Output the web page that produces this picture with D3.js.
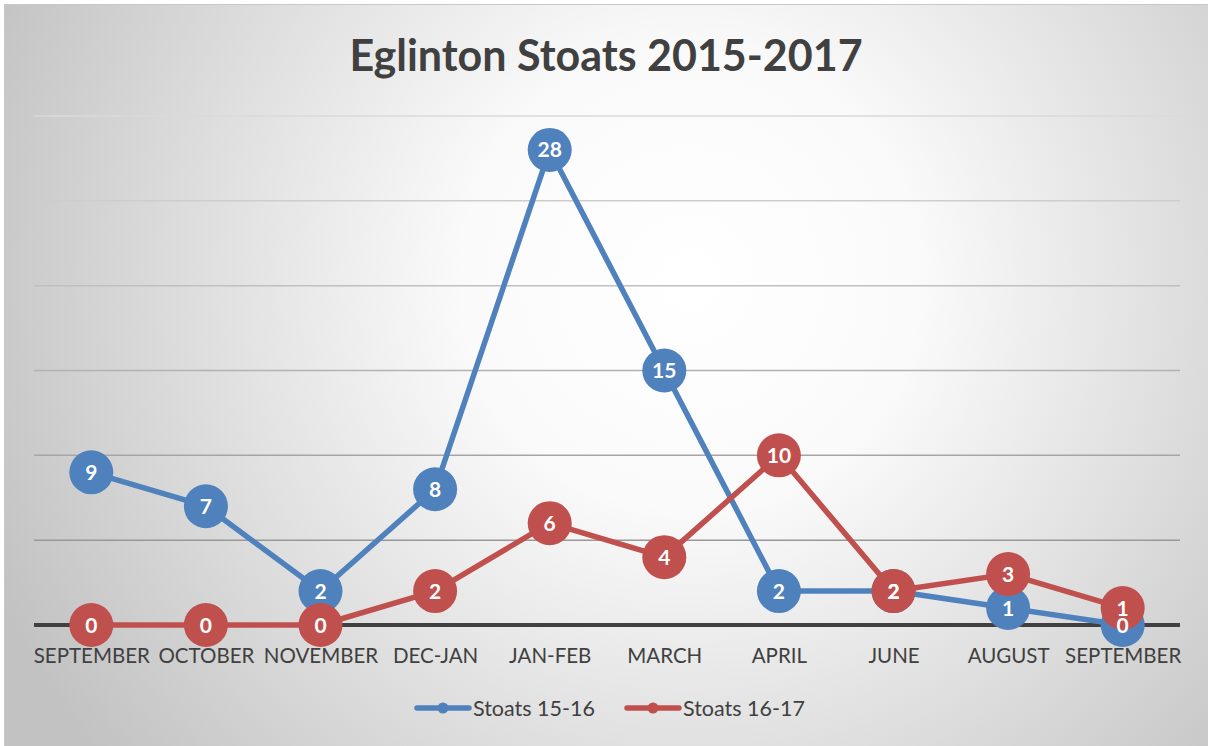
<!DOCTYPE html>
<html>
<head>
<meta charset="utf-8">
<script src="https://cdn.jsdelivr.net/npm/d3@7"></script>
<style>
  html, body { margin: 0; padding: 0; background: #fff; }
  svg { display: block; }
</style>
</head>
<body>
<script>
// chart values
const months = ['SEPTEMBER', 'OCTOBER', 'NOVEMBER', 'DEC-JAN', 'JAN-FEB', 'MARCH', 'APRIL', 'JUNE', 'AUGUST', 'SEPTEMBER'];
const stoats1516 = [9, 7, 2, 8, 28, 15, 2, 2, 1, 0];
const stoats1617 = [0, 0, 0, 2, 6, 4, 10, 2, 3, 1];
const seriesNames = ['Stoats 15-16', 'Stoats 16-17'];
const gridTicks = [5, 10, 15, 20, 25, 30];

const W = 1208, H = 746;
const colors = ['#4f81bd', '#c0504d'];
const font = 'Lato, "Open Sans", sans-serif';

let svg = d3.select('body').append('svg')
    .attr('width', W)
    .attr('height', H);

let defs = svg.append('defs');
let grad = defs.append('radialGradient')
    .attr('id', 'bg')
    .attr('gradientUnits', 'userSpaceOnUse')
    .attr('cx', 690).attr('cy', 280).attr('r', 760);
grad.append('stop').attr('offset', 0).attr('stop-color', '#ffffff');
grad.append('stop').attr('offset', 0.3).attr('stop-color', '#fafafa');
grad.append('stop').attr('offset', 1).attr('stop-color', '#c2c2c2');

svg.append('rect')
    .attr('x', 4.5).attr('y', 4.5)
    .attr('width', W).attr('height', H)
    .attr('fill', 'url(#bg)')
    .attr('stroke', '#c8c8c8')
    .attr('stroke-width', 1);

// title
svg.append('text')
    .attr('x', 606)
    .attr('y', 71)
    .attr('text-anchor', 'middle')
    .attr('font-family', font)
    .attr('font-weight', 'bold')
    .attr('font-size', 43)
    .attr('fill', '#404040')
    .text('Eglinton Stoats 2015-2017');

let x = d3.scalePoint()
    .domain(d3.range(months.length))
    .range([34, 1180])
    .padding(0.5);

let y = d3.scaleLinear()
    .domain([0, 30])
    .range([625, 116]);

// gridlines get lighter toward the top, like the reference
let gridColor = d3.scaleLinear()
    .domain([5, 30])
    .range(['#989898', '#dadada']);

svg.append('g')
    .selectAll('line')
    .data(gridTicks)
    .join('line')
    .attr('x1', 34).attr('x2', 1180)
    .attr('y1', d => y(d)).attr('y2', d => y(d))
    .attr('stroke', d => gridColor(d))
    .attr('stroke-width', 1.5);

// zero axis
let xAxis = svg.append('g')
    .attr('transform', `translate(0,${y(0)})`)
    .call(d3.axisBottom(x).tickSize(0).tickPadding(23).tickFormat(i => months[i]));
xAxis.select('.domain')
    .attr('d', 'M34,0H1180')
    .attr('stroke', '#404040')
    .attr('stroke-width', 4);
xAxis.selectAll('text')
    .attr('font-family', font)
    .attr('font-size', 20.5)
    .attr('fill', '#404040');

let series = [stoats1516, stoats1617];
let line = d3.line()
    .x((d, i) => x(i))
    .y(d => y(d));

let marks = svg.append('g');
series.forEach(function(vals, s) {
    marks.append('path')
        .datum(vals)
        .attr('d', line)
        .attr('fill', 'none')
        .attr('stroke', colors[s])
        .attr('stroke-width', 5.5)
        .attr('stroke-linejoin', 'round');
    marks.append('g')
        .selectAll('circle')
        .data(vals)
        .join('circle')
        .attr('cx', (d, i) => x(i))
        .attr('cy', d => y(d))
        .attr('r', 22)
        .attr('fill', colors[s]);
});

// data labels on top of everything
series.forEach(function(vals) {
    svg.append('g')
        .selectAll('text')
        .data(vals)
        .join('text')
        .attr('x', (d, i) => x(i))
        .attr('y', d => y(d))
        .attr('dy', '0.36em')
        .attr('text-anchor', 'middle')
        .attr('font-family', font)
        .attr('font-weight', 'bold')
        .attr('font-size', 21)
        .attr('fill', '#ffffff')
        .text(d => d);
});

// legend
let legendX = [415, 625];
let legend = svg.append('g');
seriesNames.forEach(function(name, s) {
    let g = legend.append('g').attr('transform', `translate(${legendX[s]},708)`);
    g.append('line')
        .attr('x1', 2).attr('x2', 54)
        .attr('stroke', colors[s])
        .attr('stroke-width', 5.5)
        .attr('stroke-linecap', 'round');
    g.append('circle')
        .attr('cx', 28).attr('r', 5.5)
        .attr('fill', colors[s]);
    g.append('text')
        .attr('x', 58)
        .attr('dy', '0.36em')
        .attr('font-family', font)
        .attr('font-size', 21.5)
        .attr('fill', '#404040')
        .text(name);
});
</script>
</body>
</html>
